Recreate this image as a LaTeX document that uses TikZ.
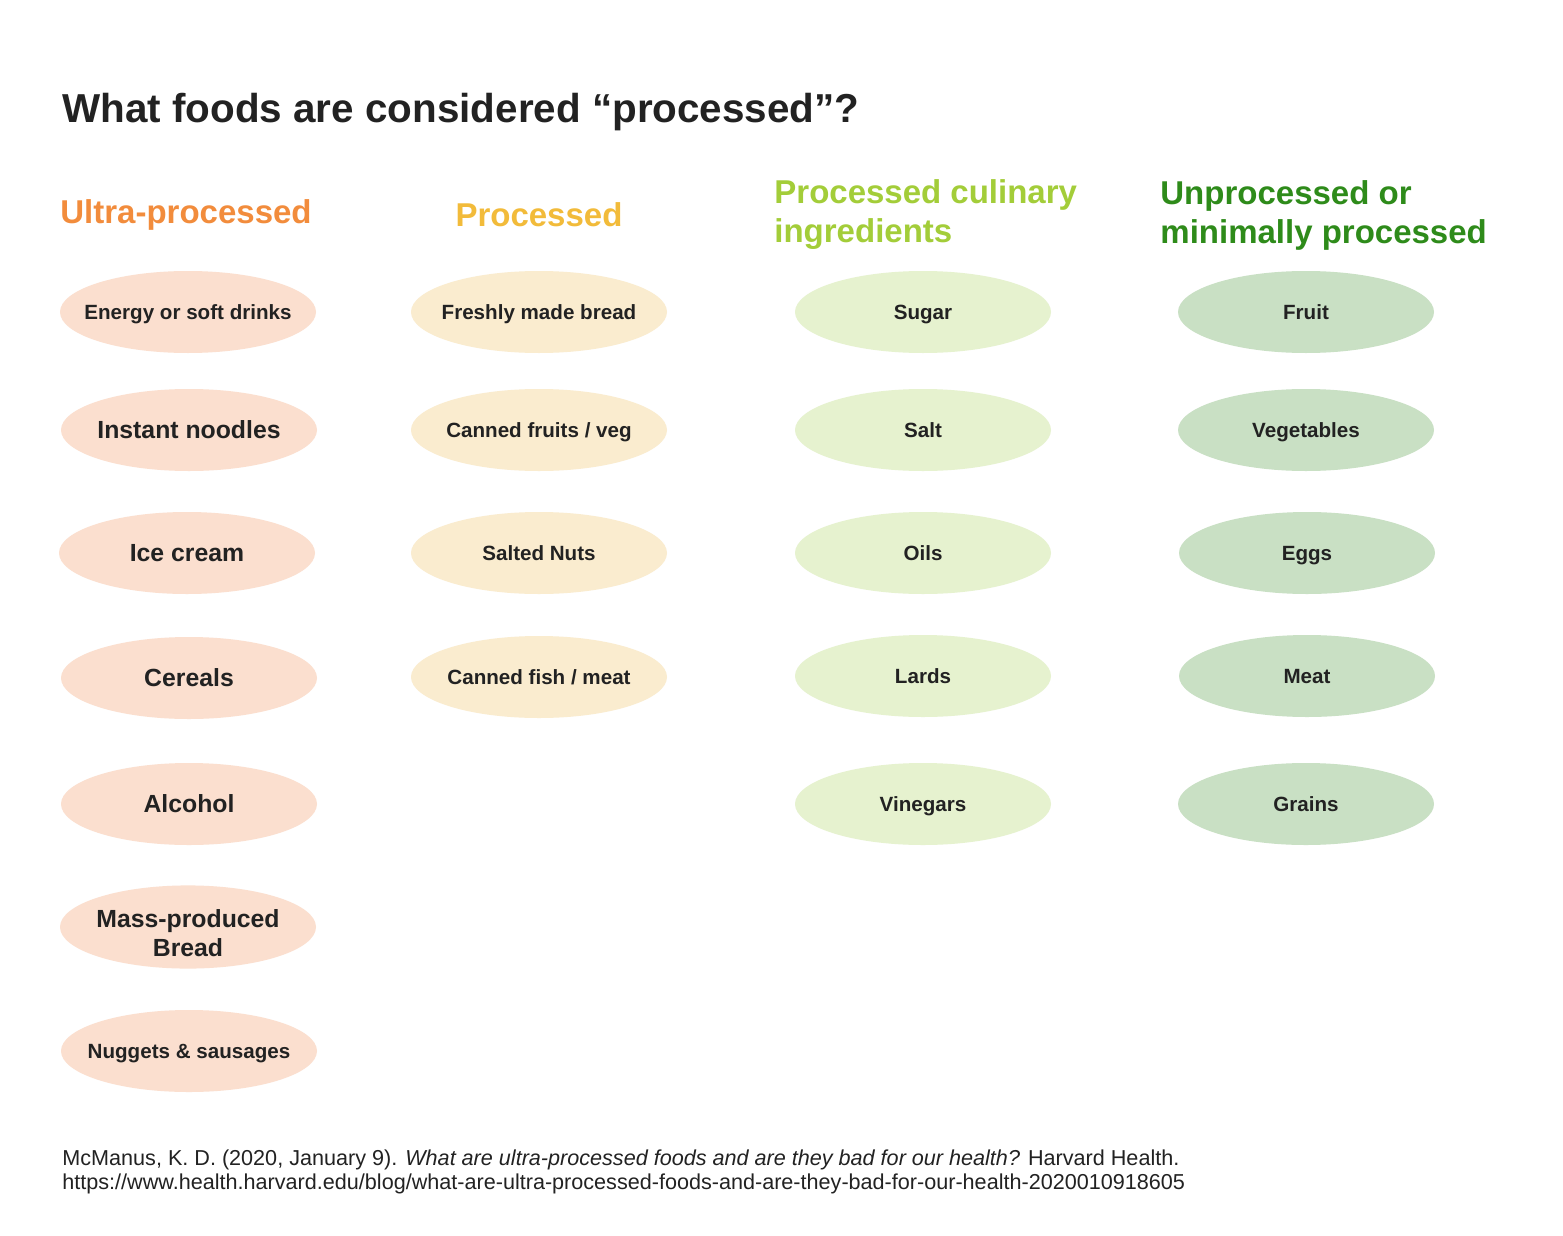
\documentclass[tikz,border=0pt]{standalone}
\usepackage{fontspec}
\setmainfont{Liberation Sans}
\usetikzlibrary{shapes.geometric}
\definecolor{ink}{HTML}{222222}
\definecolor{cUltra}{HTML}{F28C3C}
\definecolor{cProc}{HTML}{F2BB3A}
\definecolor{cCul}{HTML}{A3CD39}
\definecolor{cUnp}{HTML}{2E8B1A}
\definecolor{fUltra}{HTML}{FBDFCF}
\definecolor{fProc}{HTML}{FAECCF}
\definecolor{fCul}{HTML}{E6F2CF}
\definecolor{fUnp}{HTML}{C9E0C4}
\tikzset{
  foodbase/.style={ellipse, minimum width=128pt, minimum height=41pt, inner xsep=-12pt, inner ysep=0pt, text=ink, align=center},
  food/.style={foodbase, font=\bfseries\fontsize{10.3}{12}\selectfont, text height=7.4pt, text depth=0pt},
  foodbig/.style={foodbase, font=\bfseries\fontsize{12.4}{14.5}\selectfont, text height=8.9pt, text depth=0pt},
  foodtwo/.style={foodbase, font=\bfseries\fontsize{12.4}{14.5}\selectfont, text height=29.4pt, text depth=0pt},
  ultra/.style={fill=fUltra},
  proc/.style={fill=fProc},
  cul/.style={fill=fCul},
  unp/.style={fill=fUnp},
  head/.style={font=\bfseries\fontsize{16.5}{19.5}\selectfont, align=left, inner sep=0pt},
  refline/.style={anchor=base west, inner sep=0pt, text=ink, font=\fontsize{10.8}{12}\selectfont}
}
\begin{document}
\begin{tikzpicture}[x=0.5pt,y=-0.5pt]
\useasboundingbox[fill=white] (0,0) rectangle (1563,1236);
\node[anchor=base west, inner sep=0pt, text=ink, font=\bfseries\fontsize{20.2}{24}\selectfont] (title) at (62,123) {What foods are considered “processed”?};

\node[head, text=cUltra, anchor=west] (h1) at (60,215) {Ultra-processed};
\node[head, text=cProc, anchor=center] (h2) at (539,215) {Processed};
\node[head, text=cCul, anchor=west] (h3) at (774,215) {Processed culinary\\ingredients};
\node[head, text=cUnp, anchor=west] (h4) at (1160,215) {Unprocessed or\\minimally processed};

\node[food, ultra] (u1) at (188,312) {Energy or soft drinks};
\node[foodbig, ultra] (u2) at (189,430) {Instant noodles};
\node[foodbig, ultra] (u3) at (187,553) {Ice cream};
\node[foodbig, ultra] (u4) at (189,678) {Cereals};
\node[foodbig, ultra] (u5) at (189,804) {Alcohol};
\node[foodtwo, ultra] (u6) at (188,927) {Mass-produced\\Bread};
\node[food, ultra] (u7) at (189,1051) {Nuggets \& sausages};

\node[food, proc] (p1) at (539,312) {Freshly made bread};
\node[food, proc] (p2) at (539,430) {Canned fruits / veg};
\node[food, proc] (p3) at (539,553) {Salted Nuts};
\node[food, proc] (p4) at (539,677) {Canned fish / meat};

\node[food, cul] (c1) at (923,312) {Sugar};
\node[food, cul] (c2) at (923,430) {Salt};
\node[food, cul] (c3) at (923,553) {Oils};
\node[food, cul] (c4) at (923,676) {Lards};
\node[food, cul] (c5) at (923,804) {Vinegars};

\node[food, unp] (n1) at (1306,312) {Fruit};
\node[food, unp] (n2) at (1306,430) {Vegetables};
\node[food, unp] (n3) at (1307,553) {Eggs};
\node[food, unp] (n4) at (1307,676) {Meat};
\node[food, unp] (n5) at (1306,804) {Grains};

\node[refline] (ref1) at (62,1165) {McManus, K. D. (2020, January 9). \textit{What are ultra-processed foods and are they bad for our health?} Harvard Health.};
\node[refline] (ref2) at (62,1189) {https://www.health.harvard.edu/blog/what-are-ultra-processed-foods-and-are-they-bad-for-our-health-2020010918605};
\end{tikzpicture}
\end{document}
